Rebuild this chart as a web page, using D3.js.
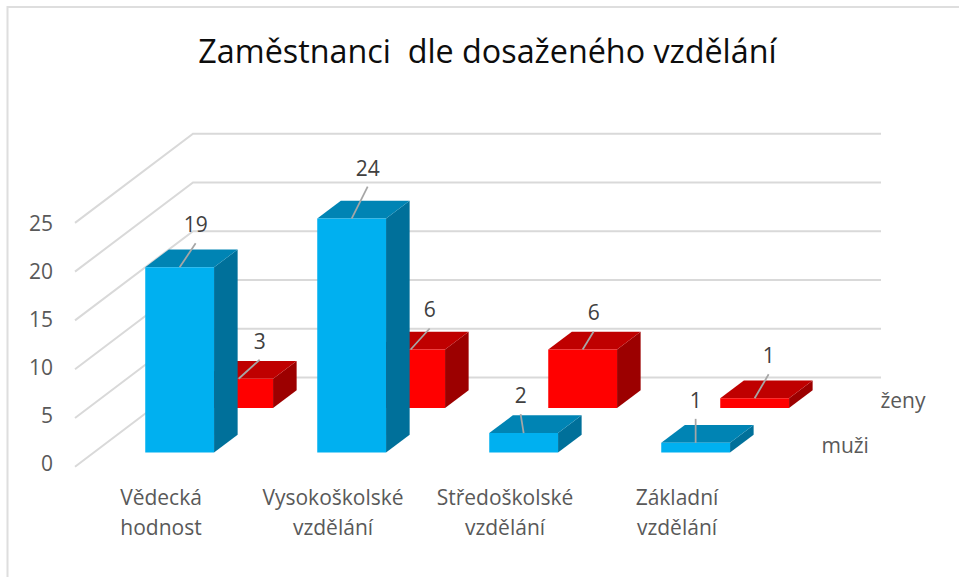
<!DOCTYPE html>
<html>
<head>
<meta charset="utf-8">
<script src="https://cdn.jsdelivr.net/npm/d3@7"></script>
<style>
  html, body { margin: 0; padding: 0; background: #fff; }
  svg { display: block; }
  text { font-family: "Open Sans", sans-serif; }
</style>
</head>
<body>
<div id="chart"></div>
<script>
const width = 959, height = 577;

const categories = ["Vědecká hodnost", "Vysokoškolské vzdělání", "Středoškolské vzdělání", "Základní vzdělání"];
const series = ["muži", "ženy"];
const muzi = [19, 24, 2, 1];
const zeny = [3, 6, 6, 1];
const yTicks = [0, 5, 10, 15, 20, 25];

const values = { "muži": muzi, "ženy": zeny };
const faceColors = {
  "muži": { front: "#00b0f0", top: "#0084b4", side: "#00709a" },
  "ženy": { front: "#ff0000", top: "#bf0000", side: "#9c0000" }
};

// hand placed data labels in the original: [dx, dy] of leader end from the front face top centre
const leaderEnds = {
  "muži": [[16, -24], [16, -32], [-3, -19], [0, -24]],
  "ženy": [[21, -19], [19, -21], [11, -18], [14, -24]]
};

// floor corner at the front and how far the chart runs into the page
const originX = 75, originY = 466.7, depthX = 118, depthY = -89.2;

const x = d3.scaleBand().domain(categories).range([originX, 763]).paddingInner(0.6).paddingOuter(0.3);
const y = d3.scaleLinear().domain([0, 25]).range([0, -243.8]);
const z = d3.scaleBand().domain(series).range([0.008, 1.008]).paddingInner(0.6).paddingOuter(0.3);

// value space to screen
const px = (sx, d) => sx + depthX * d;
const py = (v, d) => originY + y(v) + depthY * d;

const svg = d3.select("#chart").append("svg").attr("width", width).attr("height", height);

svg.append("path")
  .attr("d", "M7.5," + height + "V7H" + width)
  .attr("fill", "none")
  .attr("stroke", "#dedede")
  .attr("stroke-width", 2);

svg.append("text")
  .attr("x", 487.5)
  .attr("y", 63)
  .attr("text-anchor", "middle")
  .attr("font-size", 32.3)
  .attr("fill", "#0d0d0d")
  .style("white-space", "pre")
  .text("Zaměstnanci  dle dosaženého vzdělání");

// walls
const grid = svg.append("g");
grid.selectAll("path")
  .data(yTicks)
  .join("path")
  .attr("fill", "none")
  .attr("stroke", "#d9d9d9")
  .attr("stroke-width", 2)
  .attr("d", t => d3.line()([
    [px(originX, 0), py(t, 0)],
    [px(originX, 1), py(t, 1)],
    [px(763, 1), py(t, 1)]
  ]));

// value axis
const yAxis = d3.axisLeft(d3.scaleLinear().domain([0, 25]).range([originY - 2.5, originY - 2.5 - 240]))
  .tickValues(yTicks)
  .tickSize(0)
  .tickPadding(0);
const yG = svg.append("g").attr("transform", "translate(53,0)").call(yAxis);
yG.select(".domain").remove();
yG.selectAll("text").attr("font-size", 21).attr("fill", "#595959");

// category axis
const xAxis = d3.axisBottom(x).tickSize(0).tickFormat("");
const xG = svg.append("g").attr("transform", "translate(0,489)").call(xAxis);
xG.select(".domain").remove();
xG.selectAll(".tick text").each(function (d) {
  const words = d.split(" ");
  const t = d3.select(this).attr("font-size", 21).attr("fill", "#595959").attr("y", 0).attr("dy", null);
  words.forEach((w, i) => {
    t.append("tspan").attr("x", 0).attr("y", 16 + i * 30).text(w);
  });
});

// series axis
svg.append("g").selectAll("text")
  .data(series)
  .join("text")
  .attr("x", s => px(763, z(s) + z.bandwidth() / 2) + 28)
  .attr("y", s => py(0, z(s) + z.bandwidth() / 2) + 9)
  .attr("font-size", 21)
  .attr("fill", "#595959")
  .text(s => s);

// bars, back series first
const barData = [];
series.slice().reverse().forEach(s => {
  categories.forEach((c, i) => barData.push({ s, c, i, v: values[s][i] }));
});

const bars = svg.append("g").selectAll("g").data(barData).join("g");

function poly(pts) {
  return d3.line()(pts) + "Z";
}

bars.append("path").attr("fill", d => faceColors[d.s].side).attr("d", d => {
  const x1 = x(d.c) + x.bandwidth(), z0 = z(d.s), z1 = z0 + z.bandwidth();
  return poly([[px(x1, z0), py(0, z0)], [px(x1, z1), py(0, z1)], [px(x1, z1), py(d.v, z1)], [px(x1, z0), py(d.v, z0)]]);
});
bars.append("path").attr("fill", d => faceColors[d.s].top).attr("d", d => {
  const x0 = x(d.c), x1 = x0 + x.bandwidth(), z0 = z(d.s), z1 = z0 + z.bandwidth();
  return poly([[px(x0, z0), py(d.v, z0)], [px(x1, z0), py(d.v, z0)], [px(x1, z1), py(d.v, z1)], [px(x0, z1), py(d.v, z1)]]);
});
bars.append("path").attr("fill", d => faceColors[d.s].front).attr("d", d => {
  const x0 = x(d.c), x1 = x0 + x.bandwidth(), z0 = z(d.s);
  return poly([[px(x0, z0), py(0, z0)], [px(x1, z0), py(0, z0)], [px(x1, z0), py(d.v, z0)], [px(x0, z0), py(d.v, z0)]]);
});

// leaders and data labels sit on top of everything
const labels = svg.append("g").selectAll("g").data(barData).join("g")
  .attr("transform", d => "translate(" + px(x(d.c) + x.bandwidth() / 2, z(d.s)) + "," + py(d.v, z(d.s)) + ")");

labels.append("line")
  .attr("x1", 0).attr("y1", 0)
  .attr("x2", d => leaderEnds[d.s][d.i][0])
  .attr("y2", d => leaderEnds[d.s][d.i][1])
  .attr("stroke", "#a6a6a6")
  .attr("stroke-width", 1.75);

labels.append("text")
  .attr("x", d => leaderEnds[d.s][d.i][0])
  .attr("y", d => leaderEnds[d.s][d.i][1] - 11)
  .attr("text-anchor", "middle")
  .attr("font-size", 21)
  .attr("fill", "#404040")
  .text(d => d.v);
</script>
</body>
</html>
